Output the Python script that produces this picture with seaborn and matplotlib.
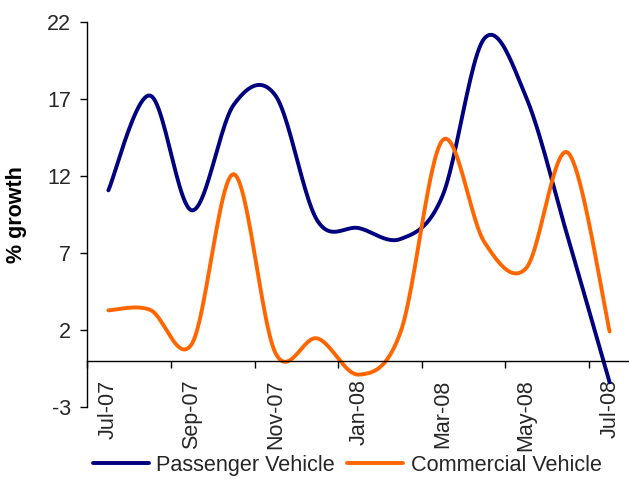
import numpy as np
import pandas as pd
import matplotlib
matplotlib.use("Agg")
import matplotlib.pyplot as plt
from matplotlib.lines import Line2D
import seaborn as sns

# Monthly year-on-year growth (%)
months = ["Jul-07", "Aug-07", "Sep-07", "Oct-07", "Nov-07", "Dec-07", "Jan-08",
          "Feb-08", "Mar-08", "Apr-08", "May-08", "Jun-08", "Jul-08"]
passenger = [11.05, 17.2, 9.75, 16.6, 17.2, 9.1, 8.6, 7.9, 10.7, 20.9, 17.1, 8.0, -1.4]
commercial = [3.27, 3.3, 1.1, 12.1, 0.5, 1.45, -0.9, 1.9, 14.3, 7.7, 6.0, 13.5, 1.9]
series_names = ["Passenger Vehicle", "Commercial Vehicle"]
series_colors = ["#000080", "#FF6600"]
y_ticks = [-3, 2, 7, 12, 17, 22]
label_every = 2


def smooth_line(xv, yv, steps=24):
    """Cubic Bezier smoothing through every point (spreadsheet-style smoothed line)."""
    xv = np.asarray(xv, float)
    yv = np.asarray(yv, float)
    n = len(xv)
    px, py = [], []
    for i in range(n - 1):
        ip = max(i - 1, 0)
        inx = min(i + 2, n - 1)
        c1x = xv[i] + (xv[i + 1] - xv[ip]) / 6
        c1y = yv[i] + (yv[i + 1] - yv[ip]) / 6
        c2x = xv[i + 1] - (xv[inx] - xv[i]) / 6
        c2y = yv[i + 1] - (yv[inx] - yv[i]) / 6
        t = np.linspace(0, 1, steps, endpoint=(i == n - 2))
        a, b, c, d = (1 - t) ** 3, 3 * (1 - t) ** 2 * t, 3 * (1 - t) * t ** 2, t ** 3
        px.append(a * xv[i] + b * c1x + c * c2x + d * xv[i + 1])
        py.append(a * yv[i] + b * c1y + c * c2y + d * yv[i + 1])
    return np.concatenate(px), np.concatenate(py)


sns.set_theme(style="white")
plt.rcParams["font.family"] = ["Liberation Sans", "DejaVu Sans"]

fig = plt.figure(figsize=(6.29, 4.79), dpi=100)
ax = fig.add_axes([87.5 / 629, 1 - 407 / 479, 543 / 629, (407 - 21.5) / 479])

pos = np.arange(len(months))
frames = []
for name, vals in zip(series_names, [passenger, commercial]):
    sx, sy = smooth_line(pos, vals)
    frames.append(pd.DataFrame({"x": sx, "y": sy, "series": name}))
df = pd.concat(frames, ignore_index=True)

sns.lineplot(data=df, x="x", y="y", hue="series", palette=series_colors,
             hue_order=series_names, estimator=None, sort=False,
             linewidth=2.8, ax=ax, legend=False)
for ln in ax.get_lines():
    ln.set_solid_capstyle("round")
    ln.set_solid_joinstyle("round")

ax.set_xlim(-0.5, len(months) - 0.5)
ax.set_ylim(-3, 22)

# Spines: category axis crosses at zero
for s in ["top", "right"]:
    ax.spines[s].set_visible(False)
ax.spines["left"].set_color("black")
ax.spines["left"].set_linewidth(1.0)
ax.spines["bottom"].set_color("black")
ax.spines["bottom"].set_linewidth(1.0)
ax.spines["bottom"].set_position(("data", 0))

ax.set_yticks(y_ticks)
ax.set_yticklabels([str(v) for v in y_ticks])
ax.tick_params(axis="y", which="major", direction="out", length=5, width=1.0,
               color="black", labelsize=15.5, pad=7, left=True)

# Tick marks between category pairs, labels on the categories
ax.set_xticks(np.arange(-0.5, len(months) - 1, label_every))
ax.set_xticklabels([])
ax.set_xticks(pos[::label_every], minor=True)
ax.set_xticklabels(months[::label_every], minor=True, rotation=90)
ax.tick_params(axis="x", which="major", direction="out", length=5, width=1.0,
               color="black", bottom=True)
ax.tick_params(axis="x", which="minor", length=0, labelsize=15.5, pad=13.5,
               bottom=True)

ax.set_xlabel("")
ax.set_ylabel("% growth", fontsize=15.5, fontweight="bold", color="black")
ax.yaxis.set_label_coords(-0.111, 0.5)
ax.grid(False)

handles = [Line2D([], [], color=c, linewidth=2.8) for c in series_colors]
fig.legend(handles, series_names, loc="center", bbox_to_anchor=(0.552, 0.029),
           ncol=2, frameon=False, fontsize=15.6, handlelength=2.6,
           handletextpad=0.33, columnspacing=0.55, borderpad=0, borderaxespad=0)

fig.savefig("out.png", dpi=100)
